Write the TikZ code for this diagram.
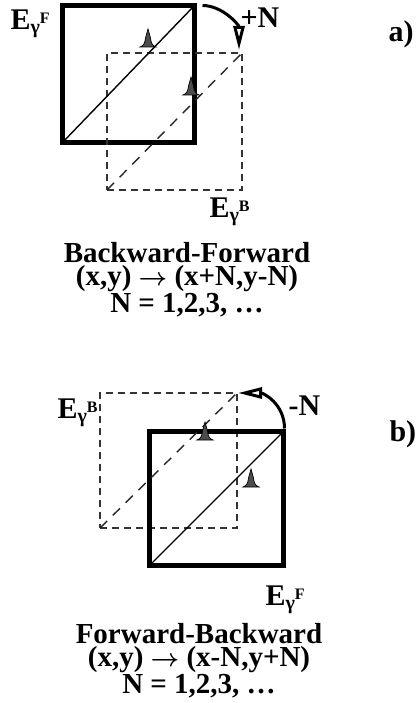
\documentclass[tikz,border=0pt]{standalone}
\usepackage{bm}
\usepackage{fontspec}
\setmainfont{Liberation Serif}
\usetikzlibrary{arrows.meta,positioning}

\newcommand{\Egam}[1]{E\raisebox{-4pt}{\fontsize{20}{20}\selectfont γ}\raisebox{6pt}{\fontsize{16}{16}\selectfont #1}}
\newcommand{\shiftto}{$\bm{\rightarrow}$}

\begin{document}
\begin{tikzpicture}[
        x=1pt, y=-1pt,
        every node/.style={font=\bfseries\fontsize{28}{24}\selectfont},
        solidbox/.style={draw=black, line width=5pt, inner sep=0pt, outer sep=0pt},
        dashbox/.style={draw=black!80, line width=1.8pt, dash pattern=on 7pt off 5pt, inner sep=0pt, outer sep=0pt},
        diag/.style={line width=1.4pt},
        dashdiag/.style={diag, black!85, dash pattern=on 10pt off 8pt},
        shiftarrow/.style={-{Triangle[open, length=24pt, width=11pt]}, line width=3pt},
        elabel/.style={anchor=base west, font=\bfseries\fontsize{30}{30}\selectfont},
        caption/.style={anchor=base, align=center, font=\bfseries\fontsize{29}{23.5}\selectfont},
        panel/.style={anchor=base west, font=\bfseries\fontsize{30}{30}\selectfont},
        peak/.pic={
            \filldraw[fill=black!70, draw=black, line width=0.7pt]
                (-8,0) .. controls (-4.5,-1) and (-3,-4) .. (-2.5,-9)
                .. controls (-2,-14) .. (0,-18)
                .. controls (1.5,-14) .. (2.5,-9)
                .. controls (3,-4) and (4.5,-1) .. (8,0) -- cycle;
        },
    ]
        \useasboundingbox (0,0) rectangle (416,703);

        % a) Backward-Forward
        \node[solidbox, minimum width=132pt, minimum height=137pt] (Fa) at (128.5,74) {};
        \node[dashbox, minimum width=135pt, minimum height=137pt] (Ba) at (174.5,121.5) {};
        \draw[diag] (Fa.south west) -- (Fa.north east);
        \draw[dashdiag] (Ba.south west) -- (Ba.north east);
        \foreach \x/\y in {148/47, 191/95}
            \pic at (\x,\y) {peak};
        \draw[shiftarrow] ([xshift=8pt]Fa.north east) .. controls +(20,0) and +(0,-25) .. ([shift={(-3,-3)}]Ba.north east);
        \node[elabel] (plusN) at (237,28) {+N};
        \node[elabel] (EFa) at (7,30) {\Egam{F}};
        \node[elabel] (EBa) at (206,218) {\Egam{B}};
        \node[caption] (capa) at (187,312) {Backward-Forward\\(x,y) \shiftto{} (x+N,y-N)\\N = 1,2,3, …};
        \node[panel] (pa) at (385,42) {a)};

        % b) Forward-Backward
        \node[dashbox, minimum width=137pt, minimum height=135pt] (Bb) at (168.5,460.5) {};
        \node[solidbox, minimum width=134pt, minimum height=134pt] (Fb) at (216.5,498.5) {};
        \draw[diag] (Fb.south west) -- (Fb.north east);
        \draw[dashdiag] (Bb.south west) -- (Bb.north east);
        \foreach \x/\y in {205/440, 251/487}
            \pic at (\x,\y) {peak};
        \draw[shiftarrow] ([shift={(1,-3)}]Fb.north east) .. controls +(0,-25) and +(25,0) .. ([shift={(1,0)}]Bb.north east);
        \node[elabel] (minusN) at (285,415) {-N};
        \node[elabel] (EBb) at (54,418) {\Egam{B}};
        \node[elabel] (EFb) at (262,605) {\Egam{F}};
        \node[caption] (capb) at (199,693) {Forward-Backward\\(x,y) \shiftto{} (x-N,y+N)\\N = 1,2,3, …};
        \node[panel] (pb) at (386,441) {b)};
\end{tikzpicture}
\end{document}
